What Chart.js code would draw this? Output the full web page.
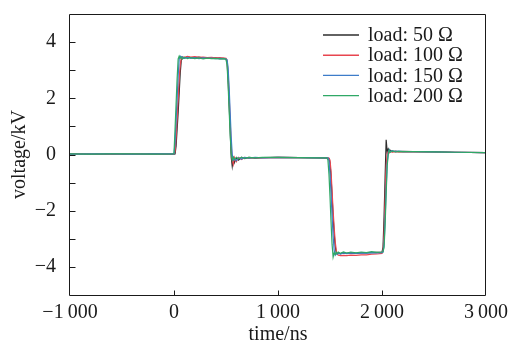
<!DOCTYPE html>
<html>
<head>
<meta charset="utf-8">
<script src="https://cdn.jsdelivr.net/npm/chart.js@4/dist/chart.umd.min.js"></script>
<style>
  html, body { margin: 0; padding: 0; background: #fff; }
  canvas { display: block; }
</style>
</head>
<body>
<canvas id="chart" width="511" height="342"></canvas>
<script>
// time axis (ns), shared by all four traces
const timeNs = [
  -1000, -800, -600, -400, -200, -10, 0, 10, 20, 30,
  40, 50, 60, 70, 80, 100, 130, 160, 200, 240,
  280, 320, 360, 400, 440, 480, 500, 510, 520, 530,
  540, 550, 560, 570, 580, 600, 620, 650, 680, 720,
  780, 850, 1000, 1200, 1400, 1470, 1480, 1490, 1500, 1510,
  1520, 1530, 1540, 1550, 1560, 1570, 1580, 1600, 1630, 1660,
  1700, 1750, 1800, 1850, 1900, 1950, 2000, 2010, 2020, 2030,
  2040, 2050, 2060, 2070, 2080, 2100, 2130, 2160, 2200, 2300,
  2500, 2700, 3000
];

// voltage (kV) per load
const load50 = [
  0.02, 0.01, 0.02, 0.01, 0.02, 0.01, 0.01, 0.02, 0.3, 0.9,
  1.5, 2.2, 2.9, 3.35, 3.45, 3.43, 3.47, 3.45, 3.44, 3.47,
  3.43, 3.45, 3.42, 3.44, 3.41, 3.42, 3.4, 3.3, 2.7, 1.8,
  0.9, -0.1, -0.42, -0.15, -0.3, -0.12, -0.2, -0.1, -0.15, -0.1,
  -0.13, -0.11, -0.1, -0.11, -0.12, -0.13, -0.13, -0.14, -0.3, -0.8,
  -1.5, -2.2, -2.8, -3.25, -3.5, -3.55, -3.5, -3.53, -3.5, -3.52,
  -3.5, -3.52, -3.5, -3.5, -3.49, -3.48, -3.47, -3.3, -2.2, -0.8,
  0.52, 0.1, 0.2, 0.12, 0.15, 0.1, 0.12, 0.1, 0.11, 0.1,
  0.09, 0.08, 0.07
];
const load100 = [
  0.02, 0.02, 0.01, 0.02, 0.01, 0.02, 0.02, 0.1, 0.6, 1.3,
  2.0, 2.7, 3.2, 3.42, 3.47, 3.46, 3.49, 3.47, 3.48, 3.46,
  3.47, 3.45, 3.46, 3.44, 3.45, 3.43, 3.42, 3.35, 2.9, 2.1,
  1.2, 0.3, -0.2, -0.35, -0.1, -0.25, -0.1, -0.18, -0.1, -0.14,
  -0.11, -0.12, -0.1, -0.11, -0.12, -0.12, -0.13, -0.13, -0.2, -0.6,
  -1.3, -2.0, -2.6, -3.1, -3.4, -3.55, -3.58, -3.6, -3.59, -3.6,
  -3.58, -3.59, -3.57, -3.57, -3.55, -3.54, -3.52, -3.45, -2.8, -1.6,
  -0.4, 0.05, 0.1, 0.06, 0.1, 0.08, 0.1, 0.09, 0.1, 0.09,
  0.09, 0.08, 0.07
];
const load150 = [
  0.01, 0.02, 0.02, 0.01, 0.02, 0.02, 0.02, 0.4, 1.2, 2.0,
  2.8, 3.4, 3.5, 3.45, 3.48, 3.42, 3.46, 3.42, 3.45, 3.41,
  3.44, 3.42, 3.43, 3.41, 3.42, 3.41, 3.4, 3.38, 3.1, 2.4,
  1.5, 0.6, 0.0, -0.2, -0.15, -0.22, -0.12, -0.16, -0.1, -0.13,
  -0.1, -0.12, -0.1, -0.11, -0.12, -0.12, -0.12, -0.2, -0.7, -1.4,
  -2.2, -2.9, -3.4, -3.58, -3.52, -3.55, -3.5, -3.54, -3.5, -3.53,
  -3.5, -3.52, -3.5, -3.51, -3.49, -3.5, -3.49, -3.47, -3.2, -2.3,
  -1.2, -0.3, 0.05, 0.17, 0.1, 0.14, 0.1, 0.12, 0.1, 0.1,
  0.09, 0.08, 0.07
];
const load200 = [
  0.02, 0.01, 0.02, 0.02, 0.01, 0.02, 0.05, 0.9, 1.8, 2.7,
  3.4, 3.5, 3.42, 3.47, 3.4, 3.46, 3.41, 3.45, 3.41, 3.44,
  3.4, 3.43, 3.41, 3.42, 3.4, 3.41, 3.38, 3.2, 2.5, 1.6,
  0.7, 0.05, -0.2, -0.1, -0.18, -0.1, -0.15, -0.1, -0.14, -0.1,
  -0.12, -0.1, -0.1, -0.11, -0.12, -0.12, -0.2, -0.7, -1.5, -2.4,
  -3.2, -3.65, -3.5, -3.56, -3.48, -3.53, -3.47, -3.52, -3.47, -3.51,
  -3.47, -3.5, -3.47, -3.49, -3.46, -3.48, -3.47, -3.46, -3.3, -2.5,
  -1.4, -0.4, 0.0, 0.15, 0.08, 0.13, 0.09, 0.11, 0.1, 0.1,
  0.09, 0.08, 0.07
];

const seriesNames = ['load: 50 \u03A9', 'load: 100 \u03A9', 'load: 150 \u03A9', 'load: 200 \u03A9'];
const seriesValues = [load50, load100, load150, load200];
const seriesColors = ['#2e2e2e', '#e8454f', '#3d7cc9', '#2fa866'];

const xTicks = [-1000, 0, 1000, 2000, 3000];
const yTicks = [-4, -2, 0, 2, 4];
const yMinorTicks = [-3, -1, 1, 3];

const FONT = 'Liberation Serif, Times New Roman, serif';
const INK = '#1a1a1a';

function fmt(v) {
  const s = Math.abs(v).toString().replace(/\B(?=(\d{3})+(?!\d))/g, '\u2009');
  return (v < 0 ? '\u2212' : '') + s;
}

// box, inward tick marks and the legend inside the plot
const frame = {
  id: 'frame',
  afterDraw(chart) {
    const ctx = chart.ctx;
    const a = chart.chartArea;
    const xs = chart.scales.x, ys = chart.scales.y;
    ctx.save();
    ctx.strokeStyle = INK;
    ctx.lineWidth = 1;
    const l = Math.round(a.left) - 0.5, t = Math.round(a.top) + 0.5;
    const r = Math.round(a.right) - 0.5, b = Math.round(a.bottom) + 0.5;
    ctx.beginPath();
    ctx.moveTo(l, t); ctx.lineTo(r, t); ctx.lineTo(r, b); ctx.lineTo(l, b); ctx.closePath();
    xTicks.forEach(v => {
      if (v <= xs.min || v >= xs.max) return;
      const px = Math.round(xs.getPixelForValue(v)) + 0.5;
      ctx.moveTo(px, b);
      ctx.lineTo(px, b - 5);
    });
    yTicks.concat(yMinorTicks).forEach(v => {
      const py = Math.round(ys.getPixelForValue(v)) + 0.5;
      ctx.moveTo(l, py);
      ctx.lineTo(l + 6, py);
    });
    ctx.stroke();

    ctx.font = '20px ' + FONT;
    ctx.textBaseline = 'middle';
    ctx.fillStyle = INK;
    seriesNames.forEach((name, i) => {
      const y = 35 + i * 20.2;
      ctx.strokeStyle = seriesColors[i];
      ctx.lineWidth = 1.4;
      ctx.beginPath();
      ctx.moveTo(323, y);
      ctx.lineTo(359, y);
      ctx.stroke();
      ctx.fillText(name, 368, y + 1);
    });
    ctx.restore();
  }
};

const datasets = seriesNames.map((name, i) => ({
  label: name,
  data: timeNs.map((t, k) => ({ x: t, y: seriesValues[i][k] })),
  borderColor: seriesColors[i],
  borderWidth: 1.2,
  pointRadius: 0,
  tension: 0,
  fill: false,
  order: 3 - i
}));

new Chart(document.getElementById('chart'), {
  type: 'line',
  data: { datasets },
  options: {
    responsive: false,
    animation: false,
    devicePixelRatio: 1,
    layout: { padding: { top: 14, right: 25, left: 0, bottom: 0 } },
    plugins: { legend: { display: false }, tooltip: { enabled: false } },
    scales: {
      x: {
        type: 'linear',
        min: -1000,
        max: 3000,
        afterBuildTicks: s => { s.ticks = xTicks.map(v => ({ value: v })); },
        afterFit: s => { s.height = 47; s.paddingLeft = 0; s.paddingRight = 0; },
        grid: { display: false },
        border: { display: false },
        ticks: {
          maxRotation: 0,
          padding: -2,
          color: INK,
          font: { family: FONT, size: 20 },
          callback: v => fmt(v)
        },
        title: {
          display: true,
          text: 'time/ns',
          color: INK,
          font: { family: FONT, size: 20 },
          padding: { top: 0, bottom: -5 }
        }
      },
      y: {
        type: 'linear',
        min: -5,
        max: 5,
        afterBuildTicks: s => { s.ticks = yTicks.map(v => ({ value: v })); },
        afterFit: s => { s.width = 70; s.paddingTop = 0; s.paddingBottom = 0; },
        grid: { display: false },
        border: { display: false },
        ticks: {
          padding: 6,
          color: INK,
          font: { family: FONT, size: 20 },
          callback: v => fmt(v)
        },
        title: {
          display: true,
          text: 'voltage/kV',
          color: INK,
          font: { family: FONT, size: 20 },
          padding: { top: 8, bottom: 0 }
        }
      }
    }
  },
  plugins: [frame]
});
</script>
</body>
</html>
